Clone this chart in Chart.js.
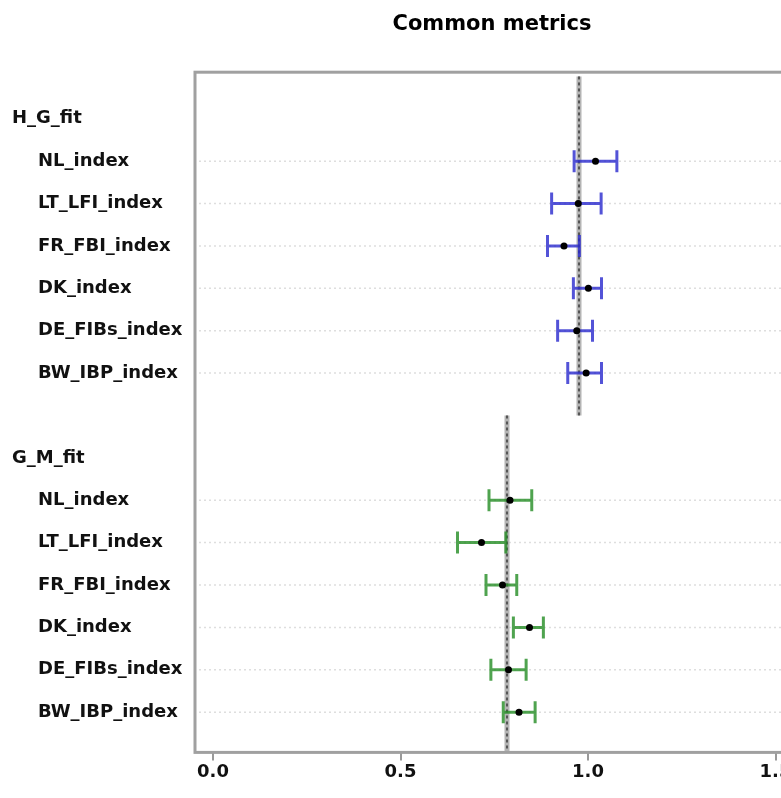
<!DOCTYPE html>
<html>
<head>
<meta charset="utf-8">
<script src="https://cdn.jsdelivr.net/npm/chart.js@4.4.0/dist/chart.umd.min.js"></script>
<style>
html, body { margin: 0; padding: 0; background: #fff; overflow: hidden; }
#wrap { width: 984px; height: 798px; }
</style>
</head>
<body>
<div id="wrap"><canvas id="chart" width="984" height="798"></canvas></div>
<script>
// values
var groups = ['H_G_fit', 'G_M_fit'];
var indexNames = ['NL_index', 'LT_LFI_index', 'FR_FBI_index', 'DK_index', 'DE_FIBs_index', 'BW_IBP_index'];
var hgMean  = [1.020, 0.974, 0.936, 1.001, 0.970, 0.995];
var hgLower = [0.963, 0.903, 0.892, 0.961, 0.919, 0.946];
var hgUpper = [1.077, 1.035, 0.977, 1.036, 1.012, 1.036];
var gmMean  = [0.792, 0.716, 0.772, 0.844, 0.788, 0.816];
var gmLower = [0.736, 0.652, 0.728, 0.801, 0.741, 0.774];
var gmUpper = [0.850, 0.781, 0.810, 0.881, 0.835, 0.859];
var groupRef = [0.976, 0.784];
var xTicks = [0, 0.5, 1.0, 1.5];

var means = [hgMean, gmMean];
var lowers = [hgLower, gmLower];
var uppers = [hgUpper, gmUpper];
var barColors = ['rgba(40,40,205,0.8)', 'rgba(35,140,35,0.8)'];
var labelFont = 'bold 18px "DejaVu Sans"';

// row number of header / items: each group takes 8 rows (header, 6 items, blank)
function headerRow(g) { return g * 8; }
function itemRow(g, i) { return g * 8 + 1 + i; }

var pointSets = groups.map(function (name, g) {
  return {
    label: name,
    data: means[g].map(function (m, i) { return { x: m, y: itemRow(g, i) }; }),
    pointRadius: 3.5,
    pointHoverRadius: 3.5,
    backgroundColor: '#000',
    borderColor: '#000',
    borderWidth: 0
  };
});

var forestPlugin = {
  id: 'forest',
  beforeDatasetsDraw: function (chart) {
    var ctx = chart.ctx, x = chart.scales.x, y = chart.scales.y, a = chart.chartArea;
    ctx.save();
    // dotted row lines
    ctx.strokeStyle = '#dedede';
    ctx.lineWidth = 1.5;
    ctx.setLineDash([2, 3]);
    groups.forEach(function (name, g) {
      indexNames.forEach(function (n, i) {
        var py = y.getPixelForValue(itemRow(g, i));
        ctx.beginPath();
        ctx.moveTo(a.left + 4, py);
        ctx.lineTo(a.right, py);
        ctx.stroke();
      });
    });
    // reference lines per group
    groups.forEach(function (name, g) {
      var px = x.getPixelForValue(groupRef[g]);
      var y0 = Math.max(a.top, y.getPixelForValue(headerRow(g) - 1));
      var y1 = Math.min(a.bottom, y.getPixelForValue(headerRow(g) + 7));
      ctx.setLineDash([]);
      ctx.strokeStyle = '#b4b4b4';
      ctx.lineWidth = 5;
      ctx.beginPath(); ctx.moveTo(px, y0); ctx.lineTo(px, y1); ctx.stroke();
      ctx.setLineDash([3, 3]);
      ctx.strokeStyle = '#555';
      ctx.lineWidth = 2;
      ctx.beginPath(); ctx.moveTo(px, y0); ctx.lineTo(px, y1); ctx.stroke();
    });
    // error bars
    ctx.setLineDash([]);
    ctx.lineWidth = 3;
    groups.forEach(function (name, g) {
      ctx.strokeStyle = barColors[g];
      indexNames.forEach(function (n, i) {
        var py = y.getPixelForValue(itemRow(g, i));
        var lo = x.getPixelForValue(lowers[g][i]);
        var hi = x.getPixelForValue(uppers[g][i]);
        ctx.beginPath();
        ctx.moveTo(lo, py); ctx.lineTo(hi, py);
        ctx.moveTo(lo, py - 11); ctx.lineTo(lo, py + 11);
        ctx.moveTo(hi, py - 11); ctx.lineTo(hi, py + 11);
        ctx.stroke();
      });
    });
    // plot box
    ctx.strokeStyle = '#a0a0a0';
    ctx.lineWidth = 3;
    ctx.strokeRect(a.left, a.top, a.right - a.left, a.bottom - a.top);
    ctx.restore();
  },
  afterDraw: function (chart) {
    var ctx = chart.ctx, y = chart.scales.y;
    ctx.save();
    ctx.font = labelFont;
    ctx.fillStyle = '#111';
    ctx.textBaseline = 'middle';
    ctx.textAlign = 'left';
    groups.forEach(function (name, g) {
      ctx.fillText(name, 12, y.getPixelForValue(headerRow(g)));
      indexNames.forEach(function (n, i) {
        ctx.fillText(n, 38, y.getPixelForValue(itemRow(g, i)));
      });
    });
    ctx.restore();
  }
};

new Chart(document.getElementById('chart'), {
  type: 'scatter',
  data: { datasets: pointSets },
  options: {
    responsive: false,
    animation: false,
    layout: { padding: { left: 195, right: 195, top: 0, bottom: 14 } },
    plugins: {
      legend: { display: false },
      tooltip: { enabled: false },
      title: {
        display: true,
        text: 'Common metrics',
        color: '#000',
        font: { family: 'DejaVu Sans', size: 21, weight: 'bold' },
        padding: { top: 12, bottom: 35 }
      }
    },
    scales: {
      x: {
        type: 'linear',
        min: -0.048,
        max: 1.536,
        afterBuildTicks: function (scale) {
          scale.ticks = xTicks.map(function (v) { return { value: v }; });
        },
        grid: { display: true, drawOnChartArea: false, drawTicks: true, tickLength: 8, color: '#999', lineWidth: 2 },
        border: { display: false },
        ticks: {
          padding: 1,
          color: '#111',
          font: { family: 'DejaVu Sans', size: 18, weight: 'bold' },
          callback: function (v) { return Number(v).toFixed(1); }
        }
      },
      y: {
        type: 'linear',
        display: false,
        reverse: true,
        min: -1.1,
        max: 14.95
      }
    }
  },
  plugins: [forestPlugin]
});
</script>
</body>
</html>
